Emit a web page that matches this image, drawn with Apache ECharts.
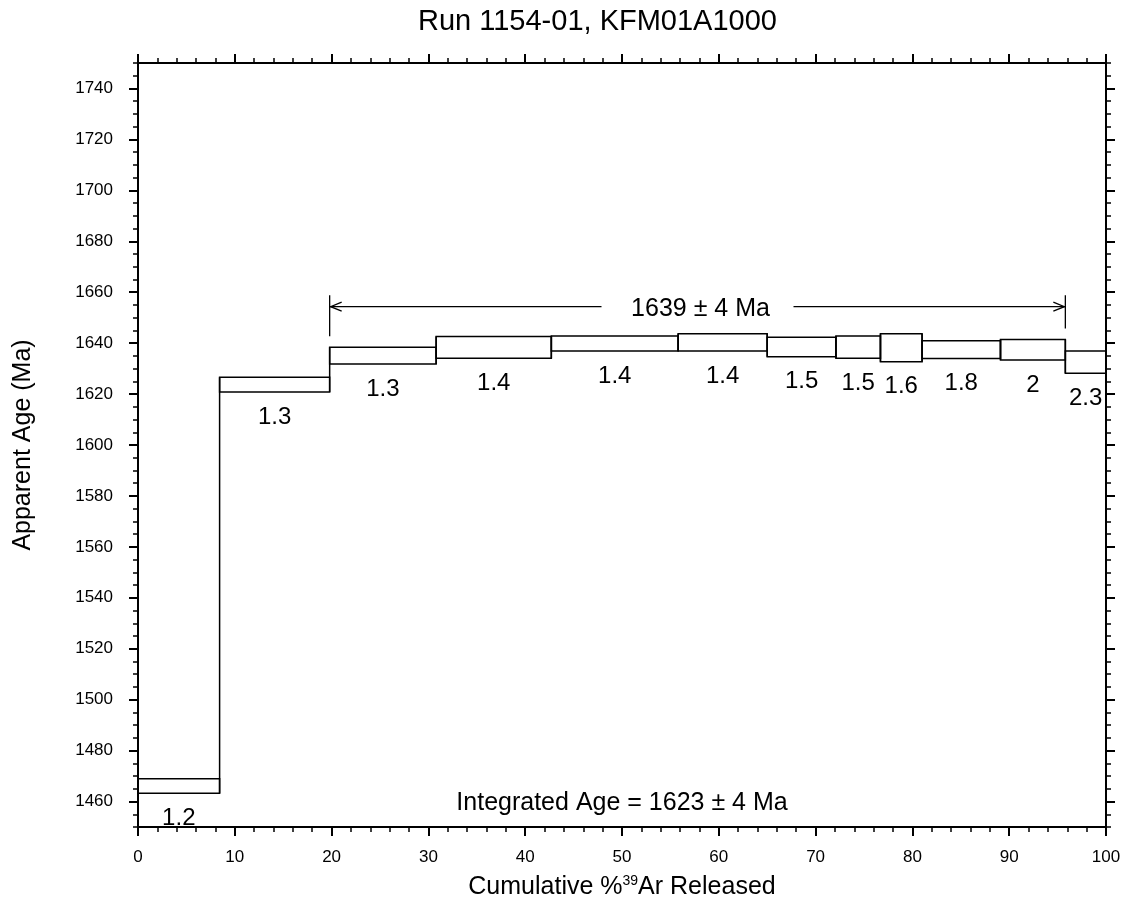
<!DOCTYPE html>
<html><head><meta charset="utf-8">
<script src="https://cdn.jsdelivr.net/npm/echarts@6/dist/echarts.min.js"></script>
<style>html,body{margin:0;padding:0;background:#fff}#c{width:1129px;height:911px}</style>
</head><body><div id="c"></div>
<script>
// ---- data ----
const chartTitle = 'Run 1154-01, KFM01A1000';
const xAxisTitle = 'Cumulative %{sup|39}Ar Released';
const yAxisTitle = 'Apparent Age (Ma)';
const stepEdges = [0, 8.43, 19.8, 30.8, 42.7, 55.8, 65.0, 72.1, 76.7, 81.0, 89.1, 95.8, 100];
const ageHigh = [1468.9, 1626.6, 1638.4, 1642.6, 1642.8, 1643.7, 1642.3, 1642.8, 1643.7, 1640.9, 1641.4, 1636.9];
const ageLow  = [1463.3, 1620.8, 1631.8, 1634.1, 1636.9, 1636.9, 1634.7, 1634.1, 1632.7, 1634.0, 1633.4, 1628.2];
const stepErrors = ['1.2', '1.3', '1.3', '1.4', '1.4', '1.4', '1.5', '1.5', '1.6', '1.8', '2', '2.3'];
const plateauFirstStep = 2;
const plateauLastStep = 10;
const plateauAge = 1639, plateauErr = 4;
const integratedAge = 1623, integratedErr = 4;
const xTickValues = [0, 10, 20, 30, 40, 50, 60, 70, 80, 90, 100];
const yTickValues = [1460, 1480, 1500, 1520, 1540, 1560, 1580, 1600, 1620, 1640, 1660, 1680, 1700, 1720, 1740];
const xRange = [0, 100];
const yRange = [1450, 1750];

// ---- chart ----
const FONT = "'Liberation Sans', Arial, Helvetica, sans-serif";
const BLACK = '#000';
const stepData = ageHigh.map((h, i) => [stepEdges[i], stepEdges[i + 1], h, ageLow[i]]);
const plain = v => String(v);

function txt(x, y, text, size, align, vAlign) {
  return { type: 'text', x: x, y: y, silent: true,
    style: { text: text, fill: BLACK, font: size + 'px ' + FONT,
      align: align, verticalAlign: vAlign, textAlign: align, textVerticalAlign: vAlign } };
}
function seg(x1, y1, x2, y2, w) {
  return { type: 'line', silent: true, shape: { x1: x1, y1: y1, x2: x2, y2: y2 },
    style: { stroke: BLACK, lineWidth: w } };
}

function renderStep(params, api) {
  const i = params.dataIndex;
  const x0 = api.value(0), x1 = api.value(1), hi = api.value(2), lo = api.value(3);
  const tl = api.coord([x0, hi]), br = api.coord([x1, lo]);
  const children = [{
    type: 'rect', silent: true,
    shape: { x: tl[0], y: tl[1], width: br[0] - tl[0], height: br[1] - tl[1] },
    style: { fill: null, stroke: BLACK, lineWidth: 1.5 }
  }];
  if (i > 0) {
    const a = api.coord([x0, Math.max(hi, ageHigh[i - 1])]);
    const b = api.coord([x0, Math.min(lo, ageLow[i - 1])]);
    children.push(seg(a[0], a[1], b[0], b[1], 1.5));
  }
  children.push(txt((tl[0] + br[0]) / 2, br[1] + 13, stepErrors[i], 24, 'center', 'top'));
  return { type: 'group', children: children };
}

function renderPlateau(params, api) {
  const xs = api.value(0), xe = api.value(1);
  let maxTop = -Infinity;
  for (let k = plateauFirstStep; k <= plateauLastStep; k++) maxTop = Math.max(maxTop, ageHigh[k]);
  const yA = api.coord([xs, maxTop])[1] - 27;
  const pL = api.coord([xs, ageHigh[plateauFirstStep]]);
  const pR = api.coord([xe, ageHigh[plateauLastStep]]);
  const cx = (pL[0] + pR[0]) / 2;
  const w = 1.3;
  return { type: 'group', children: [
    seg(pL[0], yA - 11.5, pL[0], pL[1] - 11, w),
    seg(pR[0], yA - 11.5, pR[0], pR[1] - 11, w),
    seg(pL[0], yA, cx - 96, yA, w),
    seg(cx + 96, yA, pR[0], yA, w),
    { type: 'polyline', silent: true, shape: { points: [[pL[0] + 12, yA - 4.5], [pL[0] + 1, yA], [pL[0] + 12, yA + 4.5]] },
      style: { stroke: BLACK, lineWidth: w, fill: null } },
    { type: 'polyline', silent: true, shape: { points: [[pR[0] - 12, yA - 4.5], [pR[0] - 1, yA], [pR[0] - 12, yA + 4.5]] },
      style: { stroke: BLACK, lineWidth: w, fill: null } },
    txt(cx + 3, yA + 2, plateauAge + ' \u00b1 ' + plateauErr + ' Ma', 25, 'center', 'middle')
  ]};
}

function renderIntegrated(params, api) {
  const cs = params.coordSys;
  return txt(cs.x + cs.width / 2, cs.y + cs.height - 24,
    'Integrated Age = ' + integratedAge + ' \u00b1 ' + integratedErr + ' Ma', 25, 'center', 'middle');
}

function xAx(pos, major) {
  const a = {
    type: 'value', min: xRange[0], max: xRange[1], position: pos,
    axisLine: { show: major, onZero: false, lineStyle: { color: BLACK, width: 2 } },
    splitLine: { show: false },
    axisTick: { show: true, length: major ? 9 : 5, lineStyle: { color: BLACK, width: major ? 2 : 1.5 } },
    axisLabel: { show: false }
  };
  if (major) {
    a.axisTick.customValues = xTickValues;
    if (pos === 'bottom') {
      a.axisLabel = { show: true, customValues: xTickValues, formatter: plain, color: BLACK, fontSize: 17, fontFamily: FONT, margin: 22 };
      a.name = xAxisTitle;
      a.nameLocation = 'middle';
      a.nameGap = 60;
      a.nameTextStyle = { color: BLACK, fontSize: 25, fontFamily: FONT, verticalAlign: 'middle', align: 'center',
        rich: { sup: { color: BLACK, fontSize: 14, fontFamily: FONT, verticalAlign: 'top', lineHeight: 14, padding: [0, 0, 8, 0] } } };
    }
  } else {
    a.interval = 2;
  }
  return a;
}
function yAx(pos, major) {
  const a = {
    type: 'value', min: yRange[0], max: yRange[1], position: pos,
    axisLine: { show: major, onZero: false, lineStyle: { color: BLACK, width: 2 } },
    splitLine: { show: false },
    axisTick: { show: true, length: major ? 9 : 5, lineStyle: { color: BLACK, width: major ? 2 : 1.5 } },
    axisLabel: { show: false }
  };
  if (major) {
    a.axisTick.customValues = yTickValues;
    if (pos === 'left') {
      a.axisLabel = { show: true, customValues: yTickValues, formatter: plain, color: BLACK, fontSize: 17, fontFamily: FONT, margin: 25 };
      a.name = yAxisTitle;
      a.nameLocation = 'middle';
      a.nameRotate = 90;
      a.nameGap = 115;
      a.nameTextStyle = { color: BLACK, fontSize: 25, fontFamily: FONT, verticalAlign: 'middle', align: 'center' };
    }
  } else {
    a.interval = 5;
  }
  return a;
}

const chart = echarts.init(document.getElementById('c'), null, { renderer: 'canvas' });
chart.setOption({
  animation: false,
  backgroundColor: '#fff',
  title: { text: chartTitle, left: 418, top: 7, padding: 0,
    textStyle: { color: BLACK, fontSize: 29, fontWeight: 'normal', fontFamily: FONT } },
  grid: { left: 138, right: 23, top: 63, bottom: 84, containLabel: false, outerBoundsMode: 'none' },
  xAxis: [xAx('bottom', true), xAx('bottom', false), xAx('top', true), xAx('top', false)],
  yAxis: [yAx('left', true), yAx('left', false), yAx('right', true), yAx('right', false)],
  series: [
    { type: 'custom', xAxisIndex: 0, yAxisIndex: 0, renderItem: renderStep, data: stepData, clip: false,
      encode: { x: [0, 1], y: [2, 3] } },
    { type: 'custom', xAxisIndex: 0, yAxisIndex: 0, renderItem: renderPlateau, clip: false,
      data: [[stepEdges[plateauFirstStep], stepEdges[plateauLastStep + 1]]], encode: { x: [0, 1] } },
    { type: 'custom', xAxisIndex: 0, yAxisIndex: 0, renderItem: renderIntegrated, clip: false,
      data: [[integratedAge]] , encode: { y: 0 } }
  ]
});
</script>
</body></html>
